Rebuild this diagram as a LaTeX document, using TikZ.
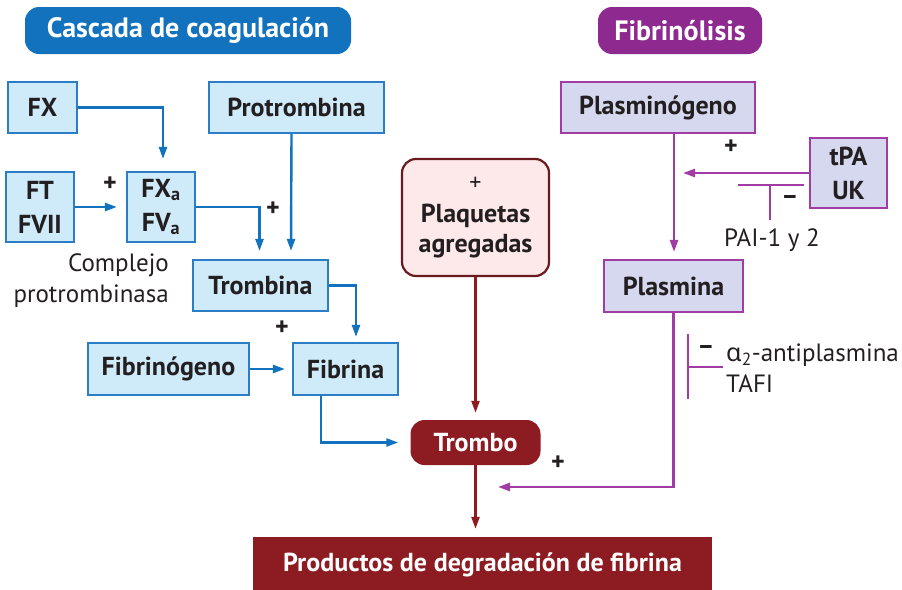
\documentclass[tikz,border=0pt]{standalone}
\usepackage{fontspec}
\setmainfont{PT Sans}
\newfontfamily\grk{Noto Sans}
\usetikzlibrary{arrows.meta,calc}
\definecolor{cblue}{HTML}{1272BD}
\definecolor{bfill}{HTML}{CFEBFA}
\definecolor{bline}{HTML}{2B7DC6}
\definecolor{cpurp}{HTML}{8E2990}
\definecolor{pfill}{HTML}{D5D8EE}
\definecolor{pline}{HTML}{A23CA5}
\definecolor{dred}{HTML}{8D1B22}
\definecolor{rfill}{HTML}{FDE9EA}
\definecolor{rline}{HTML}{6A1A1F}
\definecolor{txt}{HTML}{231F20}
\begin{document}
\begin{tikzpicture}[x=1pt,y=-1pt,
  lbl/.style={font=\fontsize{26}{34}\selectfont\bfseries, text=txt, align=center},
  bbox/.style={lbl, draw=bline, fill=bfill, line width=2.2pt, inner sep=0pt},
  pbox/.style={lbl, draw=pline, fill=pfill, line width=2.2pt, inner sep=0pt},
  title/.style={font=\fontsize{28}{32}\selectfont\bfseries, text=white, inner sep=0pt, rounded corners=14pt},
  reg/.style={font=\fontsize{25}{31}\selectfont, text=txt},
  sign/.style={font=\fontsize{26}{28}\selectfont\bfseries, text=txt, inner sep=0pt},
  barr/.style={draw=cblue, line width=2.4pt, -{Triangle[length=12pt,width=8pt]}},
  parr/.style={draw=pline, line width=2.4pt, -{Triangle[length=12pt,width=8pt]}},
  rarr/.style={draw=dred, line width=2.4pt, -{Triangle[length=12pt,width=8pt]}},
]
\useasboundingbox (0,0) rectangle (902,589);
% titles
\node[title, fill=cblue, minimum width=326pt, minimum height=47pt] (t1) at (188,30.5) {Cascada de coagulación};
\node[title, fill=cpurp, minimum width=164pt, minimum height=47pt] (t2) at (680,30.5) {Fibrinólisis};
% coagulation boxes
\node[bbox, minimum width=69pt, minimum height=51pt] (fx) at (42.5,107.5) {FX};
\node[bbox, minimum width=175pt, minimum height=51pt] (protro) at (296.5,107.5) {Protrombina};
\node[bbox, minimum width=68pt, minimum height=70pt] (ft) at (40,207) {FT\\FVII};
\node[bbox, minimum width=68pt, minimum height=70pt] (fxa) at (161,207) {FX\textsubscript{a}\\FV\textsubscript{a}};
\node[bbox, minimum width=135pt, minimum height=51pt] (trombina) at (260.5,285.5) {Trombina};
\node[bbox, minimum width=161pt, minimum height=52pt] (fibrinogeno) at (168.5,369) {Fibrinógeno};
\node[bbox, minimum width=105pt, minimum height=52pt] (fibrina) at (345.5,369) {Fibrina};
\node[reg, align=right, anchor=east, inner sep=0pt] (compl) at (169,281) {Complejo\\protrombinasa};
% platelets, thrombus, products
\node[lbl, draw=rline, fill=rfill, line width=2.2pt, rounded corners=14pt, minimum width=147pt, minimum height=117pt, inner sep=0pt] (plaq) at (475.5,217.5) {\fontsize{24}{26}\selectfont\mdseries +\\[-2pt]Plaquetas\\[-4pt]agregadas};
\node[lbl, text=white, fill=dred, rounded corners=14pt, minimum width=130pt, minimum height=45pt, inner sep=0pt] (trombo) at (475.5,442.5) {Trombo};
\node[lbl, text=white, fill=dred, minimum width=459pt, minimum height=56pt, inner sep=0pt] (prod) at (482.5,565) {Productos de degradación de fibrina};
% fibrinolysis boxes
\node[pbox, minimum width=194pt, minimum height=51pt] (plasminogeno) at (658,107.5) {Plasminógeno};
\node[pbox, minimum width=77pt, minimum height=70pt] (tpa) at (848.5,173) {tPA\\UK};
\node[pbox, minimum width=139pt, minimum height=52pt] (plasmina) at (673.5,286) {Plasmina};
\node[reg, inner sep=0pt] (pai) at (772,240) {PAI-1 y 2};
\node[reg, align=left, anchor=west, inner sep=0pt] (alpha) at (726,368) {{\grk α}\textsubscript{2}-antiplasmina\\TAFI};
% signs
\node[sign] (s1) at (110,184) {+};
\node[sign] (s2) at (273,209) {+};
\node[sign] (s3) at (282,328) {+};
\node[sign] (s4) at (731,147) {+};
\node[sign] (s5) at (558,463) {+};
\node[sign] (m1) at (790,200) {\textendash};
\node[sign] (m2) at (706,350) {\textendash};
% free ends
\coordinate (tpaend) at (683,173);
\coordinate (plend) at (498,487);
% coagulation arrows
\draw[barr] (fx.east) -| ($(fxa.north)+(2,-12)$);
\draw[barr] (ft.east) -- ($(fxa.west)+(-9,0)$);
\draw[barr] (fxa.east) -| ($(trombina.north)+(-1,-8)$);
\draw[barr] ($(protro.south)+(-5,0)$) -- ($(trombina.north)+(30.5,-8)$);
\draw[barr] (trombina.east) -| ($(fibrina.north)+(10.5,-5)$);
\draw[barr] (fibrinogeno.east) -- ($(fibrina.west)+(-7,0)$);
\draw[barr] ($(fibrina.south)+(-24.5,0)$) |- ($(trombo.west)+(-12,0)$);
\draw[rarr] (plaq.south) -- ($(trombo.north)+(0,-7)$);
\draw[rarr] (trombo.south) -- ($(trombo.south |- prod.north)+(0,-8)$);
% fibrinolysis arrows
\draw[parr] ($(plasminogeno.south)+(16,0)$) -- ($(plasmina.north)+(0.5,-7)$);
\draw[parr] (tpa.west) -- (tpaend);
\draw[parr] (plasmina.south) |- (plend);
% inhibitors
\draw[pline, line width=2.4pt] (738,185) -- (804,185) (770,185) -- (770,220);
\draw[pline, line width=2.4pt] (688,334) -- (688,399) (688,367) -- (723,367);
\end{tikzpicture}
\end{document}
